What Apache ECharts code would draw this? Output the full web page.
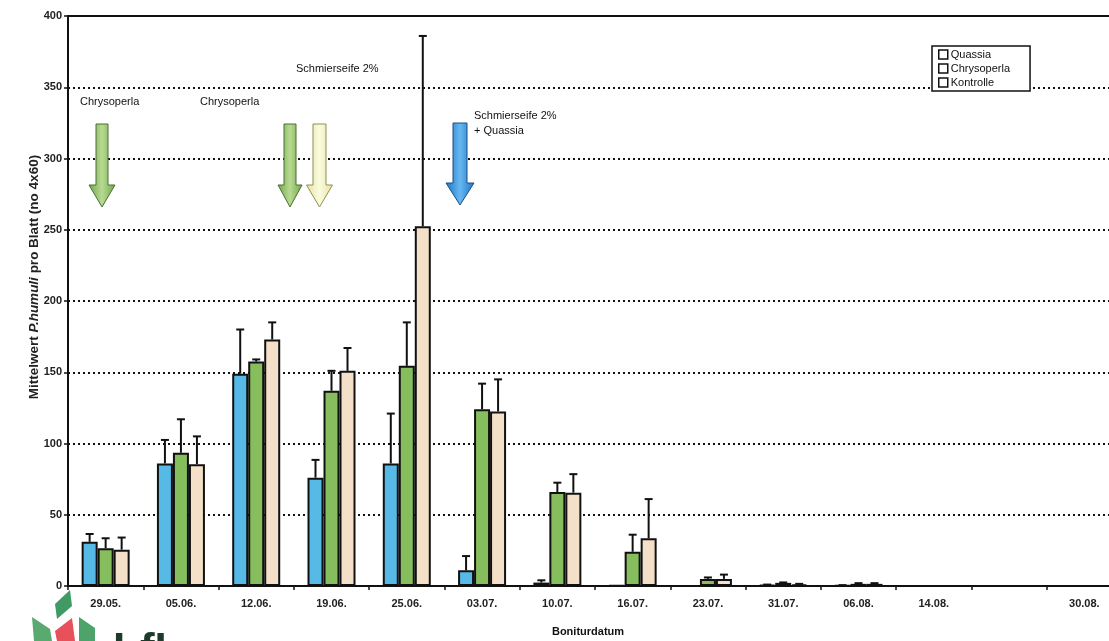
<!DOCTYPE html>
<html>
<head>
<meta charset="utf-8">
<script src="https://cdn.jsdelivr.net/npm/echarts@6/dist/echarts.min.js"></script>
<style>
  html, body { margin: 0; padding: 0; background: #fff; overflow: hidden; }
  #main { width: 1122px; height: 641px; }
</style>
</head>
<body>
<div id="main"></div>
<script>
var categories = ['29.05.', '05.06.', '12.06.', '19.06.', '25.06.', '03.07.', '10.07.', '16.07.', '23.07.', '31.07.', '06.08.', '14.08.', '', '30.08.'];
var seriesNames = ['Quassia', 'Chrysoperla', 'Kontrolle'];
var quassia        = [31,   86,    149,   76,   86,    11,    2.4,  0.5,  0,   0.8, 0.4, 0, 0, 0];
var quassiaErr     = [36.5, 102.5, 180,   88.5, 121,   21,    4,    0.5,  0,   1,   0.6, 0, 0, 0];
var chrysoperla    = [26.5, 93.5,  157.5, 137,  154.5, 124,   66,   24,   5,   2.2, 1.5, 0, 0, 0];
var chrysoperlaErr = [33.5, 117,   159,   151,  185,   142,   72.5, 36,   6,   2.5, 2,   0, 0, 0];
var kontrolle      = [25.5, 85.5,  173,   151,  252.5, 122.5, 65.5, 33.5, 5,   1.2, 1.5, 0, 0, 0];
var kontrolleErr   = [34,   105,   185,   167,  386,   145,   78.5, 61,   8,   1.5, 2,   0, 0, 0];
var yTicks = [0, 50, 100, 150, 200, 250, 300, 350, 400];

var colors = ['#56b9e6', '#86bd5d', '#f4e0c8'];
var barW = 16;

// chart div is a little wider than the window: the plot runs past the right edge, as in the scan
var myChart = echarts.init(document.getElementById('main'));

function errData(vals, errs) {
    var out = [];
    for (var i = 0; i < vals.length; i++) {
        if (errs[i] > vals[i]) out.push([i, vals[i], errs[i]]);
    }
    return out;
}

function errSeries(vals, errs, k) {
    return {
        type: 'custom',
        z: 5,
        data: errData(vals, errs),
        encode: { x: 0, y: 2 },
        renderItem: function (params, api) {
            var p0 = api.coord([api.value(0), api.value(1)]);
            var p1 = api.coord([api.value(0), api.value(2)]);
            var x = p0[0] + (k - 1) * barW;
            var st = { stroke: '#111', lineWidth: 2 };
            return {
                type: 'group',
                children: [
                    { type: 'line', shape: { x1: x, y1: p0[1], x2: x, y2: p1[1] }, style: st },
                    { type: 'line', shape: { x1: x - 4, y1: p1[1], x2: x + 4, y2: p1[1] }, style: st }
                ]
            };
        }
    };
}

function barSeries(name, vals, k) {
    return {
        name: name,
        type: 'bar',
        data: vals,
        barWidth: barW,
        barGap: '0%',
        itemStyle: { color: colors[k], borderColor: '#111', borderWidth: 2 }
    };
}

function arrow(xc, top, headY, tip, sh, hh, fill, stroke) {
    return {
        type: 'polygon',
        shape: { points: [[xc - sh, top], [xc + sh, top], [xc + sh, headY], [xc + hh, headY], [xc, tip], [xc - hh, headY], [xc - sh, headY]] },
        style: { fill: fill, stroke: stroke, lineWidth: 1 },
        z: 10
    };
}

function grad(a, b) {
    return new echarts.graphic.LinearGradient(0, 0, 1, 0, [
        { offset: 0, color: a }, { offset: 0.5, color: b }, { offset: 1, color: a }
    ]);
}

function label(x, y, txt) {
    return { type: 'text', x: x, y: y, z: 10, style: { text: txt, font: '11px "Liberation Sans", Arial', fill: '#111' } };
}

var option = {
    animation: false,
    textStyle: { fontFamily: '"Liberation Sans", Arial, sans-serif' },
    grid: {
        left: 68, top: 16, right: 0, bottom: 55,
        show: true, borderColor: '#111', borderWidth: 2,
        containLabel: false
    },
    legend: {
        orient: 'vertical',
        left: 932, top: 46,
        data: seriesNames,
        icon: 'rect',
        itemWidth: 9, itemHeight: 9, itemGap: 3,
        padding: [3, 20, 3, 6],
        backgroundColor: '#fff',
        borderColor: '#111', borderWidth: 1.5,
        itemStyle: { color: '#fff', borderColor: '#111', borderWidth: 1.5 },
        textStyle: { fontSize: 11, color: '#111', padding: [0, 0, 0, -2] }
    },
    xAxis: {
        type: 'category',
        data: categories,
        axisLine: { lineStyle: { color: '#111', width: 2 } },
        axisTick: { show: true, length: 4, interval: 0, lineStyle: { color: '#111', width: 1.5 } },
        axisLabel: { interval: 0, margin: 12, fontSize: 11, fontWeight: 'bold', color: '#222' }
    },
    yAxis: {
        type: 'value',
        min: yTicks[0], max: yTicks[yTicks.length - 1], interval: 50,
        axisLine: { show: true, lineStyle: { color: '#111', width: 2 } },
        axisTick: { show: true, length: 4, lineStyle: { color: '#111', width: 1.5 } },
        axisLabel: { margin: 6, fontSize: 11, fontWeight: 'bold', color: '#222' },
        splitLine: {
            show: true, showMinLine: false, showMaxLine: false,
            lineStyle: { color: '#111', width: 2, type: [2, 3] }
        }
    },
    series: [
        barSeries(seriesNames[0], quassia, 0),
        barSeries(seriesNames[1], chrysoperla, 1),
        barSeries(seriesNames[2], kontrolle, 2),
        errSeries(quassia, quassiaErr, 0),
        errSeries(chrysoperla, chrysoperlaErr, 1),
        errSeries(kontrolle, kontrolleErr, 2)
    ],
    graphic: [
        {
            type: 'text', x: 34, y: 277, rotation: Math.PI / 2,
            style: {
                text: 'Mittelwert {i|P.humuli} pro Blatt (no 4x60)',
                font: 'bold 13.5px "Liberation Sans", Arial', fill: '#222',
                align: 'center', verticalAlign: 'middle',
                rich: { i: { fontStyle: 'italic', fontWeight: 'bold', fontSize: 13.5 } }
            }
        },
        {
            type: 'text', x: 588, y: 632,
            style: { text: 'Boniturdatum', font: 'bold 11px "Liberation Sans", Arial', fill: '#111', align: 'center', verticalAlign: 'middle' }
        },
        label(80, 96, 'Chrysoperla'),
        label(200, 96, 'Chrysoperla'),
        label(296, 63, 'Schmierseife 2%'),
        label(474, 110, 'Schmierseife 2%'),
        label(474, 125, '+ Quassia'),
        arrow(102, 124, 185, 207, 6, 13, grad('#6fa64a', '#b8da92'), '#4b6e33'),
        arrow(290, 124, 185, 207, 6, 12, grad('#6fa64a', '#b8da92'), '#4b6e33'),
        arrow(319.5, 124, 185, 207, 6.5, 13, grad('#e6e49a', '#fbfbe2'), '#8f8f55'),
        arrow(460, 123, 183, 205, 7, 14, grad('#1c74c4', '#66b8f0'), '#1a4f86'),
        { type: 'polygon', shape: { points: [[55, 604], [70, 590], [72, 606], [57, 619]] }, style: { fill: '#3f9a63' } },
        { type: 'polygon', shape: { points: [[32, 617], [50, 629], [52, 641], [34, 641]] }, style: { fill: '#5aa96f' } },
        { type: 'polygon', shape: { points: [[55, 631], [72, 618], [75, 641], [57, 641]] }, style: { fill: '#e8505a' } },
        { type: 'polygon', shape: { points: [[79, 617], [95, 628], [95, 641], [79, 641]] }, style: { fill: '#4ea36b' } },
        { type: 'text', x: 113, y: 630, style: { text: 'LfL', font: 'bold 44px "Liberation Sans", Arial', fill: '#1e3a2a' } }
    ]
};

myChart.setOption(option);
</script>
</body>
</html>
